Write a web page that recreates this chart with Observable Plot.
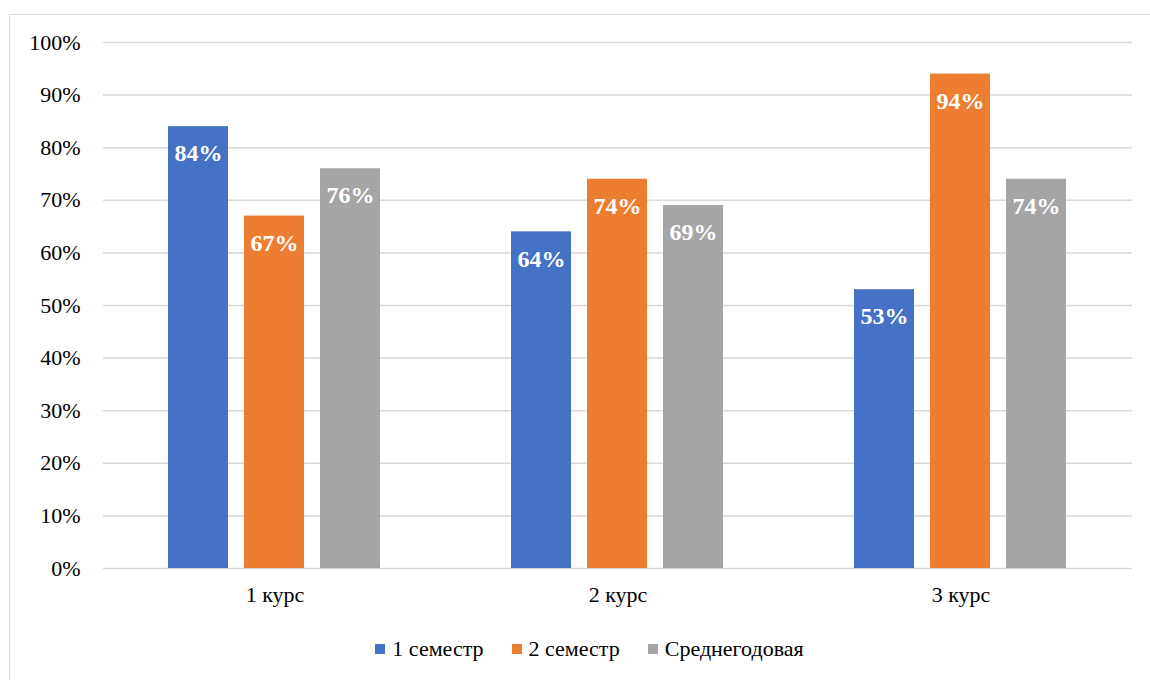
<!DOCTYPE html>
<html>
<head>
<meta charset="utf-8">
<script src="https://cdn.jsdelivr.net/npm/d3@7"></script>
<script src="https://cdn.jsdelivr.net/npm/@observablehq/plot@0.6"></script>
<style>
  html, body { margin: 0; padding: 0; background: #fff; }
  #frame { position: absolute; left: 9px; top: 14px; width: 1200px; height: 720px; border: 1.5px solid #d9d9d9; box-sizing: border-box; }
  #chart { position: absolute; left: 0; top: 0; }
  #legend { position: absolute; left: 0; top: 636px; width: 1179px; display: flex; justify-content: center; align-items: center;
            font-family: "Liberation Serif", "Times New Roman", Times, "DejaVu Serif"; font-size: 22px; color: #000; }
  .item { display: flex; align-items: center; margin: 0 14px; }
  .sw { width: 10px; height: 10px; margin-right: 7px; }
</style>
</head>
<body>
<div id="frame"></div>
<div id="chart"></div>
<div id="legend"></div>
<script>
const courses = ["1 курс", "2 курс", "3 курс"];
const series = ["1 семестр", "2 семестр", "Среднегодовая"];
const sem1 = [0.84, 0.64, 0.53];
const sem2 = [0.67, 0.74, 0.94];
const avg = [0.76, 0.69, 0.74];
const colors = ["#4472C4", "#ED7D31", "#A5A5A5"];
const yTicks = [0, 0.1, 0.2, 0.3, 0.4, 0.5, 0.6, 0.7, 0.8, 0.9, 1.0];

const values = [sem1, sem2, avg];
const data = [];
courses.forEach((c, i) => series.forEach((s, j) => data.push({course: c, series: s, value: values[j][i]})));

const pct = d => Math.round(d * 100) + "%";
const FONT = "'Liberation Serif', 'Times New Roman', Times, 'DejaVu Serif'";

const chart = Plot.plot({
  width: 1150,
  height: 620,
  marginLeft: 103,
  marginRight: 18,
  marginTop: 42,
  marginBottom: 52,
  style: {fontFamily: FONT, fontSize: "22px", color: "#000", background: "transparent"},
  fx: {domain: courses, padding: 0, label: null},
  x: {domain: series, paddingInner: 0.2105, paddingOuter: 0.8616, axis: null},
  y: {domain: [0, 1], axis: null},
  color: {domain: series, range: colors},
  marks: [
    Plot.gridY(yTicks, {stroke: "#d9d9d9", strokeOpacity: 1, strokeWidth: 1.5}),
    Plot.axisY(yTicks, {tickSize: 0, tickPadding: 23, tickFormat: pct, label: null, fontSize: 22, fontFamily: FONT}),
    Plot.axisFx({anchor: "bottom", tickSize: 0, tickPadding: 18, label: null, fontSize: 22, fontFamily: FONT}),
    Plot.barY(data, {fx: "course", x: "series", y: "value", fill: "series"}),
    Plot.text(data, {fx: "course", x: "series", y: "value", text: d => pct(d.value), dy: 27, fill: "white", fontWeight: "bold", fontSize: 24, fontFamily: FONT})
  ]
});
document.getElementById("chart").appendChild(chart);

const legend = document.getElementById("legend");
series.forEach((s, i) => {
  const item = document.createElement("div");
  item.className = "item";
  const sw = document.createElement("span");
  sw.className = "sw";
  sw.style.background = colors[i];
  const t = document.createElement("span");
  t.textContent = s;
  item.appendChild(sw);
  item.appendChild(t);
  legend.appendChild(item);
});
</script>
</body>
</html>
